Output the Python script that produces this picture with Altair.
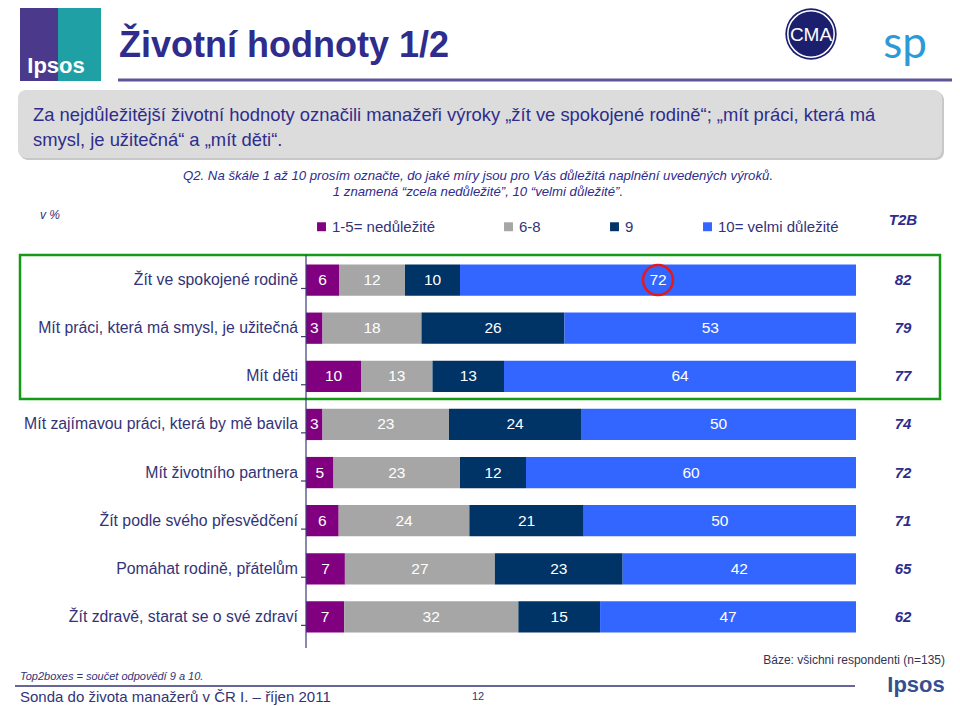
import altair as alt
import pandas as pd

categories = [
    "Žít ve spokojené rodině",
    "Mít práci, která má smysl, je užitečná",
    "Mít děti",
    "Mít zajímavou práci, která by mě bavila",
    "Mít životního partnera",
    "Žít podle svého přesvědčení",
    "Pomáhat rodině, přátelům",
    "Žít zdravě, starat se o své zdraví",
]
segments = ["1-5= nedůležité", "6-8", "9", "10= velmi důležité"]
v_low = [6, 3, 10, 3, 5, 6, 7, 7]
v_mid = [12, 18, 13, 23, 23, 24, 27, 32]
v_nine = [10, 26, 13, 24, 12, 21, 23, 15]
v_ten = [72, 53, 64, 50, 60, 50, 42, 47]
t2b = [82, 79, 77, 74, 72, 71, 65, 62]
colors = ["#800080", "#A6A6A6", "#003366", "#3366FF"]

rows = []
for i, c in enumerate(categories):
    vals = [v_low[i], v_mid[i], v_nine[i], v_ten[i]]
    tot = sum(vals)
    cum = 0
    for s, v in zip(segments, vals):
        rows.append(dict(category=c, segment=s, value=v,
                         start=cum / tot, end=(cum + v) / tot, mid=(cum + v / 2) / tot))
        cum += v
df = pd.DataFrame(rows)
df_t2b = pd.DataFrame({"category": categories, "t2b": t2b})
df_hi = df[(df.category == categories[0]) & (df.segment == segments[3])]
df_cat = pd.DataFrame({"category": categories})
one = pd.DataFrame({"a": [0]})

O = 8  # page margin
FONT = "Liberation Sans"
NAVY_TXT = "#2E2C8C"
LBL = "#333377"

xs = alt.Scale(domain=[0, 1], range=[306 - O, 856 - O])
ys = alt.Scale(domain=categories, range=[256 - O, 641 - O], paddingInner=0.35, paddingOuter=0.175)


def txt(s, x, y, size, color, align="left", weight="normal", style="normal", font=FONT):
    return alt.Chart(one).mark_text(
        text=s, align=align, baseline="alphabetic", fontSize=size, color=color,
        fontWeight=weight, fontStyle=style, font=font
    ).encode(x=alt.value(x - O), y=alt.value(y - O))


def rect(x1, y1, x2, y2, **kw):
    return alt.Chart(one).mark_rect(**kw).encode(
        x=alt.value(x1 - O), x2=alt.value(x2 - O), y=alt.value(y1 - O), y2=alt.value(y2 - O))


def hrule(x1, x2, y, color, w):
    return alt.Chart(one).mark_rule(color=color, strokeWidth=w).encode(
        x=alt.value(x1 - O), x2=alt.value(x2 - O), y=alt.value(y - O))


layers = []

# header: Ipsos logo
layers.append(rect(20, 6, 101, 81, fill="#4B3A8C"))
layers.append(rect(58, 6, 101, 81, fill="#1FA0A4"))
layers.append(txt("Ipsos", 56, 73, 22, "white", align="center", weight="bold"))
# title
layers.append(txt("Životní hodnoty 1/2", 119, 57, 36, NAVY_TXT, weight="bold"))
layers.append(hrule(118, 955, 80, "#5C5599", 3))
# CMA logo
layers.append(alt.Chart(one).mark_point(shape="circle", filled=True, size=2640, color="#1C1F6E", opacity=1)
              .encode(x=alt.value(811 - O), y=alt.value(34 - O)))
layers.append(alt.Chart(one).mark_point(shape="circle", filled=False, size=2150, color="white", strokeWidth=1.5, opacity=1)
              .encode(x=alt.value(811 - O), y=alt.value(34 - O)))
layers.append(txt("CMA", 811, 41, 19, "white", align="center"))
# sp logo
layers.append(txt("sp", 905, 58, 44, "#2D9AD8", align="center", font="Lato"))

# gray box
layers.append(rect(20, 92, 944, 160, fill="#C8C8C8", cornerRadius=8))
layers.append(rect(18, 90, 942, 158, fill="#DCDCDC", cornerRadius=8))
layers.append(txt("Za nejdůležitější životní hodnoty označili manažeři výroky „žít ve spokojené rodině“; „mít práci, která má",
                  33, 121, 18.4, NAVY_TXT))
layers.append(txt("smysl, je užitečná“ a „mít děti“.", 33, 146, 18.4, NAVY_TXT))

# question
layers.append(txt("Q2. Na škále 1 až 10 prosím označte, do jaké míry jsou pro Vás důležitá naplnění uvedených výroků.",
                  478, 180, 13.2, NAVY_TXT, align="center", style="italic"))
layers.append(txt("1 znamená “zcela nedůležité”, 10 “velmi důležité”.", 478, 196, 13.2, NAVY_TXT,
                  align="center", style="italic"))
layers.append(txt("v %", 40, 219, 12, LBL, style="italic"))
layers.append(txt("T2B", 903, 225, 15, NAVY_TXT, align="center", weight="bold", style="italic"))

# green highlight box
layers.append(rect(20, 255, 940, 399, fillOpacity=0, stroke="#159A15", strokeWidth=2.5))

# bars
bars = alt.Chart(df).mark_bar().encode(
    x=alt.X("start:Q", scale=xs, axis=None),
    x2="end:Q",
    y=alt.Y("category:N", scale=ys, axis=None),
    color=alt.Color("segment:N", scale=alt.Scale(domain=segments, range=colors),
                    legend=alt.Legend(orient="none", legendX=314 - O, legendY=219 - O,
                                      direction="horizontal", columns=4, title=None,
                                      symbolType="square", symbolSize=80, symbolStrokeWidth=0,
                                      labelFontSize=15, labelFont=FONT, labelColor=LBL,
                                      columnPadding=66, padding=0, labelOffset=3)),
)
layers.append(bars)

seg_text = alt.Chart(df).mark_text(color="white", fontSize=15.5, font=FONT, baseline="middle").encode(
    x=alt.X("mid:Q", scale=xs, axis=None),
    y=alt.Y("category:N", scale=ys, axis=None),
    text="value:Q",
)
layers.append(seg_text)

t2b_text = alt.Chart(df_t2b).mark_text(color=NAVY_TXT, fontSize=15, font=FONT, fontWeight="bold",
                                       fontStyle="italic", baseline="middle").encode(
    x=alt.value(903 - O),
    y=alt.Y("category:N", scale=ys, axis=None),
    text="t2b:Q",
)
layers.append(t2b_text)

cat_text = alt.Chart(df_cat).mark_text(color=LBL, fontSize=15.8, font=FONT, align="right", baseline="middle").encode(
    x=alt.value(298 - O),
    y=alt.Y("category:N", scale=ys, axis=None),
    text="category:N",
)
layers.append(cat_text)

# axis line and ticks
layers.append(alt.Chart(one).mark_rule(color="#3B3B7B", strokeWidth=1.2).encode(
    x=alt.value(306 - O), y=alt.value(255 - O), y2=alt.value(648 - O)))
layers.append(alt.Chart(df_cat).mark_rule(color="#3B3B7B", strokeWidth=1.2).encode(
    x=alt.value(301 - O), x2=alt.value(306 - O),
    y=alt.Y("category:N", scale=ys, axis=None), yOffset=alt.value(24.06)))

# red circle
layers.append(alt.Chart(df_hi).mark_point(shape="circle", filled=False, size=900, color="#E3191C",
                                          strokeWidth=2.5, opacity=1).encode(
    x=alt.X("mid:Q", scale=xs, axis=None),
    y=alt.Y("category:N", scale=ys, axis=None),
))

# footer
layers.append(txt("Báze: všichni respondenti (n=135)", 945, 664, 12, "#333355", align="right"))
layers.append(txt("Top2boxes = součet odpovědí 9 a 10.", 20, 680, 11, LBL, style="italic"))
layers.append(hrule(15, 855, 686, "#333377", 1.5))
layers.append(txt("Sonda do života manažerů  v ČR I. – říjen 2011", 20, 702, 15, LBL))
layers.append(txt("12", 478, 700, 11, LBL, align="center"))
layers.append(txt("Ipsos", 916, 692, 22, "#34508F", align="center", weight="bold"))

chart = alt.layer(*layers).properties(
    width=944, height=698, padding=0, autosize=alt.AutoSizeParams(type="none")
).configure_view(strokeWidth=0)

chart.save("out.html", embed_options={"renderer": "svg", "actions": False})
